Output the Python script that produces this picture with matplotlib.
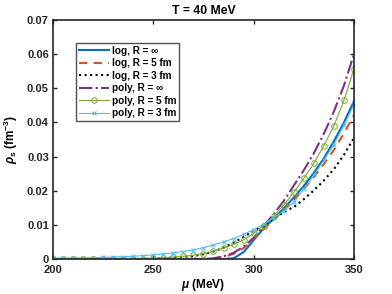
import matplotlib
matplotlib.use("Agg")
import matplotlib.pyplot as plt
from matplotlib.ticker import FixedLocator

plt.rcParams['font.family'] = ['Liberation Sans', 'DejaVu Sans']
plt.rcParams['mathtext.fontset'] = 'custom'
plt.rcParams['mathtext.rm'] = 'Liberation Sans:bold'
plt.rcParams['mathtext.it'] = 'Liberation Sans:italic:bold'
plt.rcParams['mathtext.bf'] = 'Liberation Sans:bold'

mu = [200, 205, 210, 215, 220, 225, 230, 235, 240, 245, 250, 255, 260, 265, 270,
      275, 280, 285, 290, 295, 300, 305, 310, 315, 320, 325, 330, 335, 340, 345, 350]

log_inf = [0, 0, 0, 0, 0, 0, 0, 0, 0, 0, 0, 0, 0, 0, 0,
           0, 0, 0, 0.0002, 0.002, 0.0055, 0.009, 0.0118, 0.0148, 0.018, 0.0214,
           0.0252, 0.0295, 0.0345, 0.0400, 0.0462]
log_5 = [0, 0, 0, 0, 0, 0, 0, 0, 0, 0, 0, 0, 0, 0, 0,
         0, 0.0002, 0.0006, 0.0015, 0.0032, 0.0058, 0.0088, 0.0115, 0.0143, 0.0173,
         0.0205, 0.024, 0.0278, 0.032, 0.0368, 0.0422]
log_3 = [0, 0, 0, 0, 0, 0, 0, 0, 0, 0, 0.0001, 0.0002, 0.0004, 0.0006, 0.0009,
         0.0014, 0.0022, 0.0033, 0.0048, 0.0065, 0.0082, 0.0098, 0.0117, 0.0138, 0.0152,
         0.0175, 0.0201, 0.023, 0.0263, 0.0305, 0.0355]
poly_inf = [0, 0, 0, 0, 0, 0, 0, 0, 0, 0, 0, 0, 0, 0, 0,
            0, 0.0002, 0.0008, 0.0018, 0.0036, 0.0062, 0.0096, 0.0132, 0.0170, 0.0215,
            0.026, 0.031, 0.0367, 0.0432, 0.0508, 0.060]
poly_5 = [0, 0, 0, 0, 0, 0, 0, 0, 0, 0.0001, 0.0002, 0.0004, 0.0006, 0.0008, 0.0011,
          0.0016, 0.0023, 0.0032, 0.0043, 0.0056, 0.0075, 0.0098, 0.0126, 0.0158, 0.0195,
          0.0236, 0.028, 0.0332, 0.039, 0.0465, 0.0557]
poly_3 = [0.0002, 0.0002, 0.0003, 0.0003, 0.0004, 0.0005, 0.0006, 0.0007, 0.0008, 0.001,
          0.0012, 0.0015, 0.0018, 0.0022, 0.0027, 0.0033, 0.0041, 0.005, 0.006, 0.0072,
          0.0086, 0.0102, 0.012, 0.0141, 0.0166, 0.0205, 0.0245, 0.029, 0.0335, 0.0392, 0.0452]

labels = ['log, R = \u221e', 'log, R = 5 fm', 'log, R = 3 fm',
          'poly, R = \u221e', 'poly, R = 5 fm', 'poly, R = 3 fm']
xticks = [200, 250, 300, 350]
yticks = [0, 0.01, 0.02, 0.03, 0.04, 0.05, 0.06, 0.07]
ytick_labels = ['0', '0.01', '0.02', '0.03', '0.04', '0.05', '0.06', '0.07']

fig = plt.figure(figsize=(3.92, 2.94), dpi=100)
ax = fig.add_axes([0.135, 0.119, 0.768, 0.813])

ax.plot(mu, log_inf, '-', color='#0072BD', lw=1.5, label=labels[0])
ax.plot(mu, log_5, '--', color='#D95319', lw=1.5, dashes=(4, 3), label=labels[1])
ax.plot(mu, log_3, ':', color='black', lw=1.5, label=labels[2])
ax.plot(mu, poly_inf, '-.', color='#7E2F8E', lw=1.5, label=labels[3])
ax.plot(mu, poly_5, '-', color='#77AC30', lw=0.8, marker='o', ms=4,
        mfc='none', mew=0.7, label=labels[4])
ax.plot(mu, poly_3, '-', color='#4DBEEE', lw=0.8, marker='x', ms=3.5,
        mew=0.7, label=labels[5])

ax.set_xlim(200, 350)
ax.set_ylim(0, 0.07)
ax.xaxis.set_major_locator(FixedLocator(xticks))
ax.set_xticklabels([str(t) for t in xticks])
ax.yaxis.set_major_locator(FixedLocator(yticks))
ax.set_yticklabels(ytick_labels)
ax.tick_params(direction='in', top=True, right=True, length=3, width=1,
               labelsize=8, colors='#262626')
ax.tick_params(axis='x', pad=4)
ax.tick_params(axis='y', pad=3)
for lab in ax.get_xticklabels() + ax.get_yticklabels():
    lab.set_fontweight('bold')
for sp in ax.spines.values():
    sp.set_linewidth(1.2)
    sp.set_color('#262626')

ax.set_title('T = 40 MeV', fontsize=8.8, fontweight='bold', pad=4)
ax.set_xlabel(r'$\mu$ (MeV)', fontsize=8.5, fontweight='bold', labelpad=2)
ax.set_ylabel(r'$\rho_{\rm s}$ (fm$^{-3}$)', fontsize=8.5, fontweight='bold', labelpad=5)

leg = ax.legend(loc='upper left', bbox_to_anchor=(0.076, 0.904), borderaxespad=0,
                frameon=True, fancybox=False, edgecolor='#262626',
                handlelength=3.0, handletextpad=0.3, labelspacing=0.25,
                borderpad=0.3, prop={'weight': 'bold', 'size': 7.2})
leg.get_frame().set_linewidth(1.0)

fig.savefig('out.png', dpi=100)
